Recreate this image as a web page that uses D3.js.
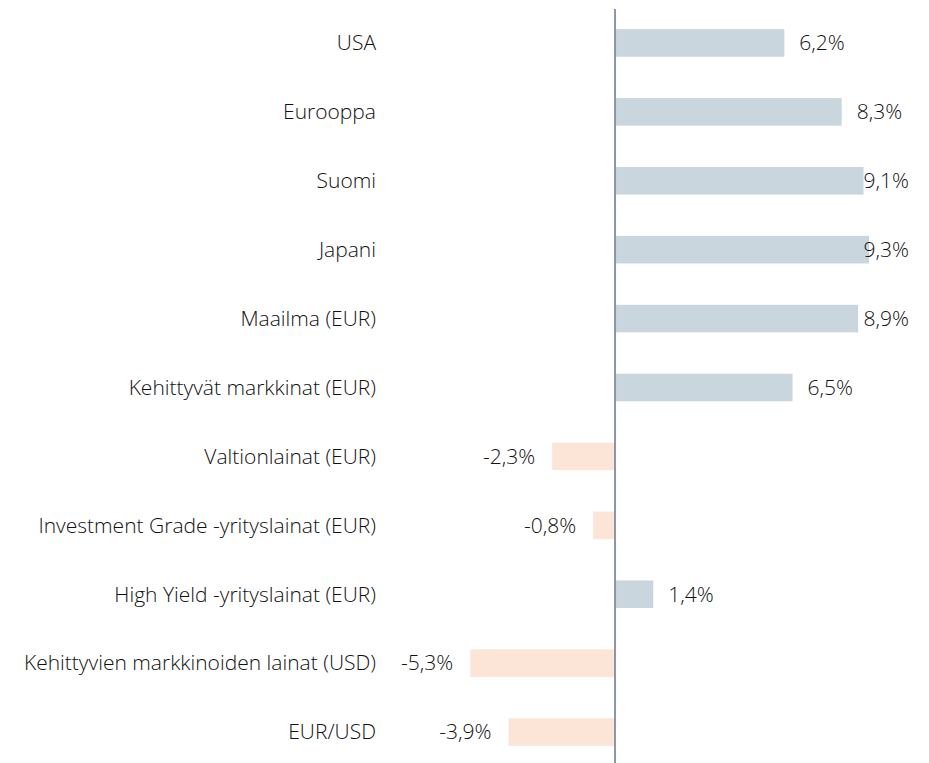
<!DOCTYPE html>
<html>
<head>
<meta charset="utf-8">
<script src="https://cdn.jsdelivr.net/npm/d3@7"></script>
<style>
  html, body { margin: 0; padding: 0; background: #fff; }
  svg { display: block; }
  text { font-family: "Open Sans", sans-serif; font-weight: 300; fill: #111; }
</style>
</head>
<body>
<svg id="chart" width="929" height="763"></svg>
<script>
const categories = [
  "USA",
  "Eurooppa",
  "Suomi",
  "Japani",
  "Maailma (EUR)",
  "Kehittyvät markkinat (EUR)",
  "Valtionlainat (EUR)",
  "Investment Grade -yrityslainat (EUR)",
  "High Yield -yrityslainat (EUR)",
  "Kehittyvien markkinoiden lainat (USD)",
  "EUR/USD"
];
const values = [6.2, 8.3, 9.1, 9.3, 8.9, 6.5, -2.3, -0.8, 1.4, -5.3, -3.9];

const svg = d3.select("#chart");
const W = 929, H = 763;
const FS = "21px";

const x = d3.scaleLinear().domain([-5.3, 9.3]).range([470.3, 869]);
const y = d3.scaleBand().domain(categories).range([8.5, 766.5]).paddingInner(0.6).paddingOuter(0.3);

const posColor = "#c9d6de";
const negColor = "#fce4d6";

const rows = categories.map((c, i) => ({ c, v: values[i] }));

svg.append("g").selectAll("rect").data(rows).join("rect")
  .attr("x", d => Math.min(x(0), x(d.v)))
  .attr("width", d => Math.abs(x(d.v) - x(0)))
  .attr("y", d => y(d.c))
  .attr("height", y.bandwidth())
  .attr("fill", d => d.v >= 0 ? posColor : negColor);

// zero axis line
svg.append("line")
  .attr("x1", x(0)).attr("x2", x(0))
  .attr("y1", 9).attr("y2", H)
  .attr("stroke", "#8c95a5").attr("stroke-width", 2);

// category labels
svg.append("g").selectAll("text").data(rows).join("text")
  .attr("x", 376)
  .attr("y", d => y(d.c) + y.bandwidth() / 2)
  .attr("dy", "0.35em")
  .attr("text-anchor", "end")
  .style("font-size", FS)
  .text(d => d.c);

// value labels
const fmt = v => d3.format(".1f")(v).replace(".", ",").replace("−", "-") + "%";
const vl = svg.append("g").selectAll("text").data(rows).join("text")
  .attr("y", d => y(d.c) + y.bandwidth() / 2)
  .attr("dy", "0.35em")
  .style("font-size", FS)
  .text(d => fmt(d.v));

vl.each(function(d) {
  const t = d3.select(this);
  const w = this.getComputedTextLength();
  if (d.v >= 0) {
    let sx = x(d.v) + 15;
    if (sx + w > 909) sx = 909 - w;
    t.attr("x", sx).attr("text-anchor", "start");
  } else {
    t.attr("x", x(d.v) - 17).attr("text-anchor", "end");
  }
});
</script>
</body>
</html>
